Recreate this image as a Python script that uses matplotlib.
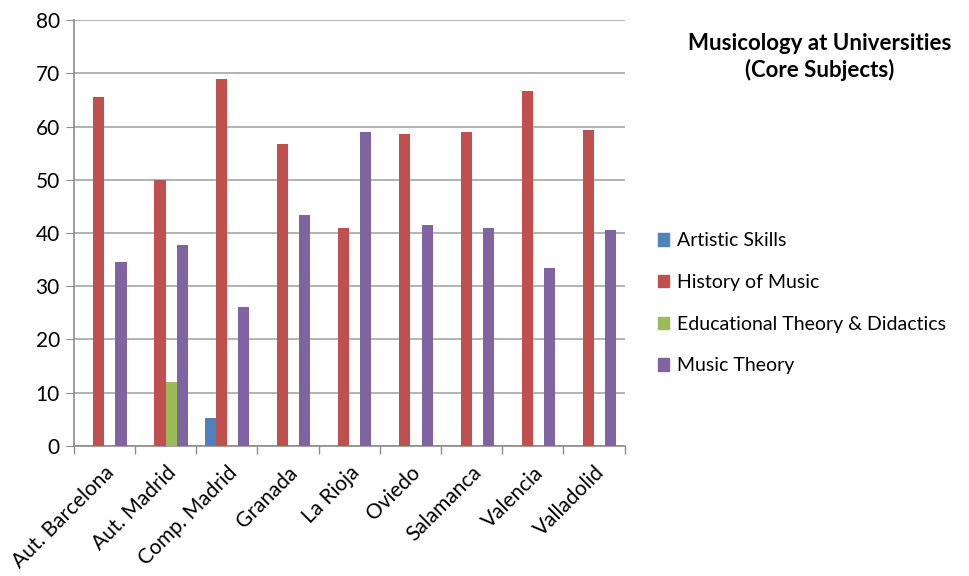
import numpy as np
import matplotlib
matplotlib.use('Agg')
import matplotlib.pyplot as plt
from matplotlib.patches import Patch

universities = ['Aut. Barcelona', 'Aut. Madrid', 'Comp. Madrid', 'Granada', 'La Rioja',
                'Oviedo', 'Salamanca', 'Valencia', 'Valladolid']
artistic_skills = [0, 0, 5.3, 0, 0, 0, 0, 0, 0]
history_of_music = [65.5, 50.0, 68.9, 56.8, 41.0, 58.6, 59.0, 66.7, 59.4]
educational_theory = [0, 12.0, 0, 0, 0, 0, 0, 0, 0]
music_theory = [34.6, 37.8, 26.0, 43.3, 59.0, 41.5, 41.0, 33.4, 40.6]

series_names = ['Artistic Skills', 'History of Music', 'Educational Theory & Didactics', 'Music Theory']
series_values = [artistic_skills, history_of_music, educational_theory, music_theory]
colors = ['#4F81BD', '#C0504D', '#9BBB59', '#8064A2']

plt.rcParams['font.family'] = ['Lato', 'DejaVu Sans']

fig = plt.figure(figsize=(9.7, 5.76), dpi=100)
ax = fig.add_axes([0.076, 0.226, 0.568, 0.739])

x = np.arange(len(universities))
w = 1 / 5.5  # Excel default gap width 150%
for i, (vals, c) in enumerate(zip(series_values, colors)):
    ax.bar(x + (i - 1.5) * w, vals, width=w, color=c, zorder=3)

ax.set_xlim(-0.5, len(universities) - 0.5)
ax.set_ylim(0, 80)
ax.set_yticks(range(0, 81, 10))
ax.grid(axis='y', color='#a6a6a6', linewidth=1.2, zorder=0)

ax.set_xticks(x)
ax.set_xticklabels(universities, rotation=45, ha='right', rotation_mode='anchor', fontsize=15)
ax.set_xticks(np.arange(-0.5, len(universities)), minor=True)
ax.tick_params(axis='x', which='major', length=0, pad=12)
ax.tick_params(axis='x', which='minor', length=6, color='#8c8c8c', width=1)
ax.tick_params(axis='y', length=6, color='#8c8c8c', labelsize=15, pad=4)

for s in ['top', 'right']:
    ax.spines[s].set_visible(False)
for s in ['left', 'bottom']:
    ax.spines[s].set_color('#8c8c8c')
    ax.spines[s].set_linewidth(1.2)

fig.text(0.845, 0.901, 'Musicology at Universities\n(Core Subjects)', ha='center', va='center',
         fontsize=16, fontweight='bold', linespacing=1.3)

handles = [Patch(color=c) for c in colors]
fig.legend(handles, series_names, loc='upper left', bbox_to_anchor=(0.66, 0.627),
           frameon=False, fontsize=14, handlelength=0.6, handleheight=0.6,
           handletextpad=0.4, labelspacing=1.27)

fig.savefig('out.png', dpi=100)
